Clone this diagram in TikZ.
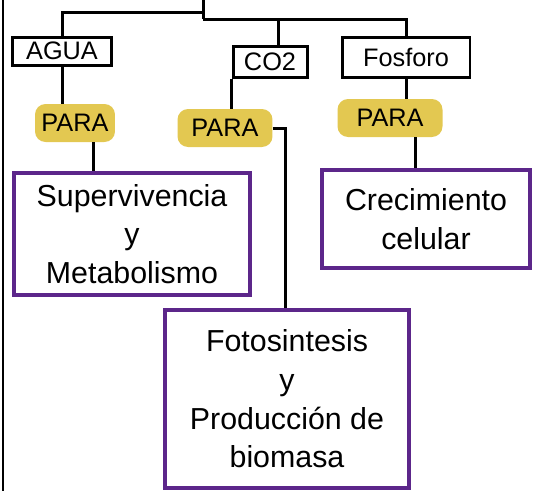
\documentclass[tikz,border=0pt]{standalone}
\usepackage{fontspec}
\setmainfont{Liberation Sans}
\definecolor{morado}{RGB}{92,38,138}
\definecolor{amarillo}{RGB}{222,190,50}

\begin{document}
\begin{tikzpicture}[
    % 坐标单位:1 = 1 像素,y 轴向下
    x=0.02cm, y=-0.02cm,
    % 黑色小方框:物质名称
    caja/.style={
        rectangle, % 矩形
        line width=0.6mm, % 边框宽度
        draw=black,
        font=\Large,
        inner sep=1pt
        },
    % 黄色高亮:连接词
    resalto/.style={
        rectangle,
        rounded corners=6pt,
        fill=amarillo,
        fill opacity=0.85,
        text opacity=1,
        font=\Large,
        inner sep=0pt
        },
    % 紫色大方框:用途
    meta/.style={
        rectangle,
        line width=0.8mm,
        draw=morado,
        align=center,
        font=\LARGE,
        inner sep=2pt
        },
    % 连线样式
    linea/.style={line width=0.6mm, draw=black}
    ]
    \useasboundingbox (0,0) rectangle (536,491);
    % ========== 第一步:物质方框 ==========
    \node [caja, minimum width=2cm, minimum height=0.56cm] (agua) at (62,51) {AGUA};
    \node [caja, minimum width=1.48cm, minimum height=0.62cm] (co2) at (270,62) {CO2};
    \node [caja, minimum width=2.56cm, minimum height=0.8cm] (fosforo) at (406,57) {Fosforo};
    % ========== 第二步:连接词 ==========
    \foreach \name/\x/\y/\w in {para1/75/123/1.6, para2/225/128/1.9, para3/390/118/2.1} {
        \node [resalto, minimum width=\w cm, minimum height=0.76cm] (\name) at (\x,\y) {PARA};
    }
    % ========== 第三步:用途方框 ==========
    \node [meta, minimum width=4.72cm, minimum height=2.44cm] (sup) at (132,234) {Supervivencia\\y\\Metabolismo};
    \node [meta, minimum width=4.16cm, minimum height=1.96cm] (crec) at (426,219) {Crecimiento\\celular};
    \node [meta, minimum width=4.9cm, minimum height=3.56cm] (foto) at (287,399) {Fotosintesis\\y\\Producción de\\biomasa};
    % ========== 第四步:连线 ==========
    \draw [linea] (3,0) -- (3,491); % 左侧竖线
    \coordinate (top) at (203,0);
    \coordinate (hubL) at (203,12);
    \coordinate (hubR) at (203,19);
    \draw [linea] (top) -- (hubR);
    \draw [linea] (hubL) -| (agua.north);
    \draw [linea] (hubR) -| (278,0 |- co2.north);
    \draw [linea] (hubR) -| (fosforo.north);
    \draw [linea] (agua.south) -- (agua.south |- para1.north);
    \draw [linea] (co2.south west) -- (co2.south west |- para2.north);
    \draw [linea] (fosforo.south) -- (fosforo.south |- para3.north);
    \draw [linea] (93,0 |- para1.south) -- (93,0 |- sup.north);
    \draw [linea] (para2.east) -| (285,0 |- foto.north);
    \draw [linea] (415,0 |- para3.south) -- (415,0 |- crec.north);
\end{tikzpicture}
\end{document}
